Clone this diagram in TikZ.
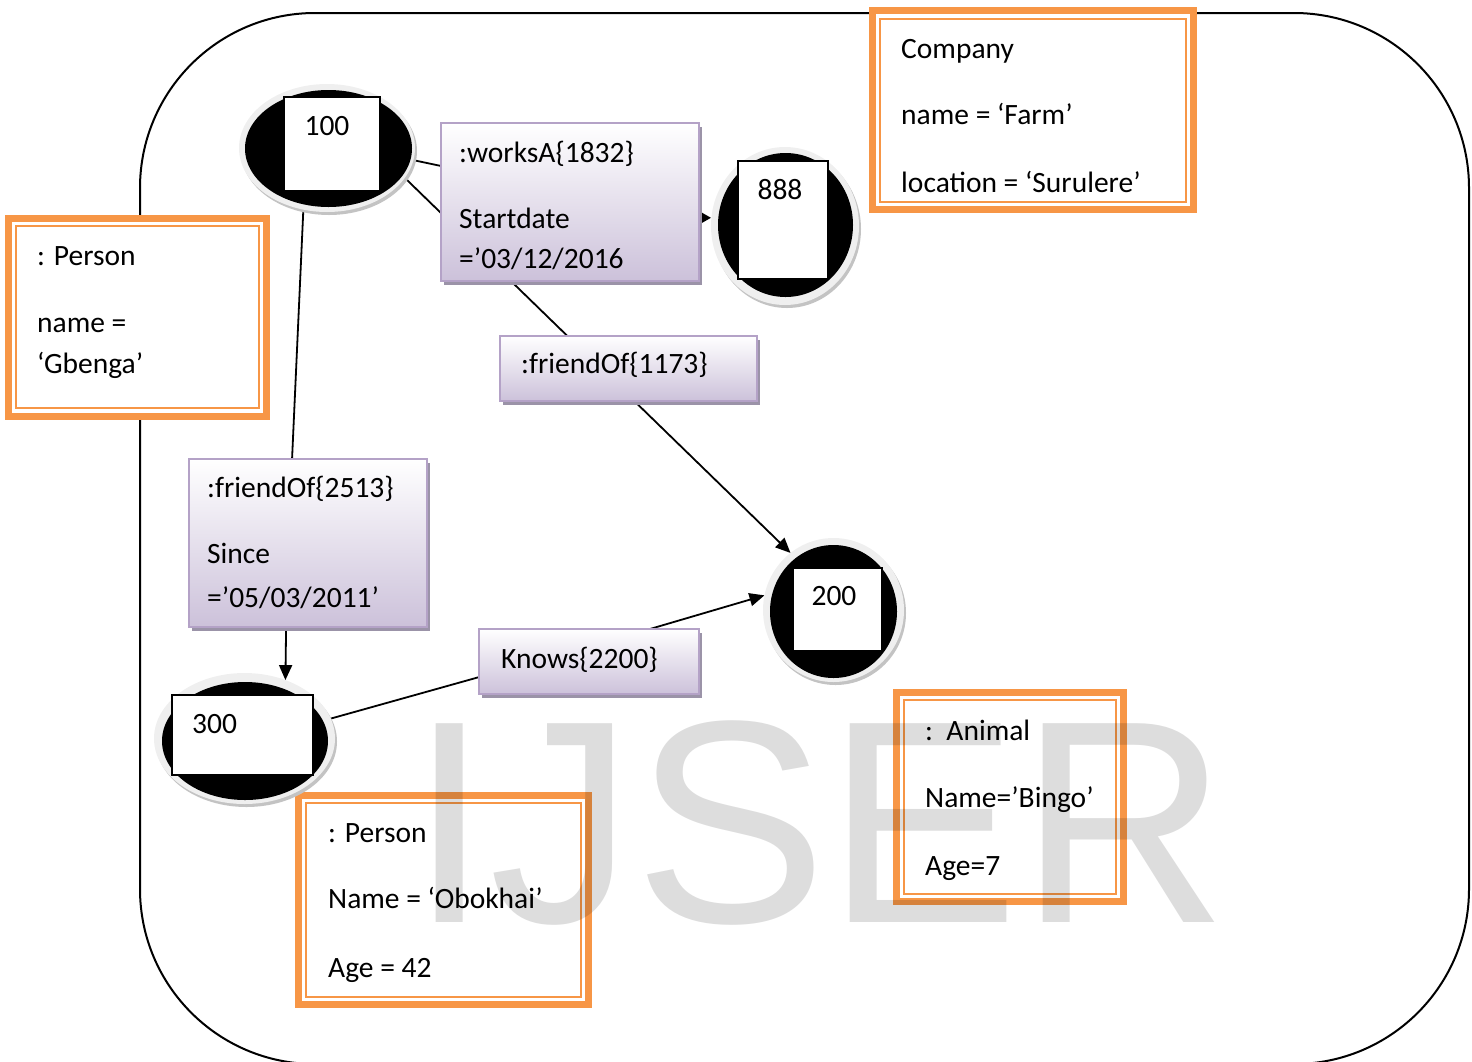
\documentclass[tikz,border=0pt]{standalone}
\usepackage{fontspec}
\setmainfont{Carlito}
\newfontfamily\wmfont{Liberation Sans}
\usetikzlibrary{shapes.geometric,arrows.meta,calc,shadows}
\pgfdeclarelayer{bg}
\pgfsetlayers{bg,main}
\definecolor{orangeC}{RGB}{247,150,70}
\definecolor{relborder}{RGB}{180,162,199}
\definecolor{relbottom}{RGB}{204,193,218}
\definecolor{relshadow}{RGB}{155,147,168}
\definecolor{ringcol}{RGB}{239,239,239}
\definecolor{ringshadow}{RGB}{195,195,195}
\definecolor{wmgray}{RGB}{221,221,221}
\tikzset{
  ring/.style={ellipse, fill=ringcol, inner sep=0pt, outer sep=0pt,
    general shadow={fill=ringshadow, shadow xshift=2pt, shadow yshift=-3pt}},
  blackell/.style={ellipse, fill=black, inner sep=0pt},
  numbox/.style={rectangle, fill=white, draw=black, line width=1.5pt, inner sep=0pt},
  numtxt/.style={font=\fontsize{29.5}{33}\selectfont, inner sep=0pt, anchor=base},
  relbox/.style={rectangle, draw=relborder, line width=2pt, top color=white,
    bottom color=relbottom, inner sep=0pt, outer sep=0pt,
    general shadow={fill=relshadow, shadow xshift=3pt, shadow yshift=-4pt}},
  objbox/.style={rectangle, draw=orangeC, line width=7pt, fill=white, inner sep=0pt, outer sep=0pt},
  innerline/.style={draw=orangeC, line width=2pt},
  txt/.style={font=\fontsize{29.5}{33}\selectfont, inner sep=0pt, anchor=north west, align=left},
  conn/.style={draw=black, line width=1.8pt},
  arr/.style={-{Triangle[length=15pt,width=13pt]}},
  smallarr/.style={-{Triangle[length=11pt,width=12pt]}}
}
\begin{document}
\begin{tikzpicture}[x=1pt,y=-1pt]
\useasboundingbox (0,0) rectangle (1472,1061);

% object boxes (orange)
\node[objbox, minimum width=321pt, minimum height=199pt] (company) at (1033,110) {};
\draw[innerline] ($(company.north west)+(7.5,8)$) rectangle ($(company.south east)+(-7.5,-7.5)$);
\node[objbox, minimum width=258pt, minimum height=198pt] (gbenga) at (137.5,317.5) {};
\draw[innerline] ($(gbenga.north west)+(7.5,7.5)$) rectangle ($(gbenga.south east)+(-7.5,-8.5)$);
\node[objbox, minimum width=290pt, minimum height=209pt] (obokhai) at (443.5,900) {};
\draw[innerline] ($(obokhai.north west)+(7.5,7.5)$) rectangle ($(obokhai.south east)+(-7.5,-7.5)$);
\node[objbox, minimum width=227pt, minimum height=209pt] (animal) at (1010,797) {};
\draw[innerline] ($(animal.north west)+(7.5,7.5)$) rectangle ($(animal.south east)+(-7.5,-7.5)$);

\begin{scope}
\clip (869,0) rectangle (1197,192);
\node[txt] (tcompany) at (901,34.9) {\strut Company\\[33pt]\strut name = ‘Farm’\\[35pt]\strut location = ‘Surulere’};
\end{scope}
\node[txt] (tgbenga) at (37,241.9) {\strut : Person\\[34pt]\strut name =\\[8pt]\strut ‘Gbenga’};
\node[txt] (tobokhai) at (328,818.9) {\strut : Person\\[33pt]\strut Name = ‘Obokhai’\\[36pt]\strut Age = 42};
\node[txt] (tanimal) at (925,716.9) {\strut :\ \ Animal\\[34pt]\strut Name=’Bingo’\\[35pt]\strut Age=7};

% relationship boxes
\node[relbox, minimum width=258pt, minimum height=158pt] (worksA) at (570,202) {};
\node[txt] (tworksA) at (459,138.9) {\strut :worksA\{1832\}\\[33pt]\strut Startdate\\[7pt]\strut =’03/12/2016};
\node[relbox, minimum width=257pt, minimum height=65pt] (fo1173) at (628.5,368.5) {};
\node[txt] (tfo1173) at (521,349.9) {\strut :friendOf\{1173\}};
\node[relbox, minimum width=238pt, minimum height=168pt] (fo2513) at (308,543) {};
\node[txt] (tfo2513) at (207,473.9) {\strut :friendOf\{2513\}\\[33pt]\strut Since\\[11pt]\strut =’05/03/2011’};
\node[relbox, minimum width=220pt, minimum height=65pt] (knows) at (589,661.5) {};
\node[txt] (tknows) at (501,644.9) {\strut Knows\{2200\}};

% entity nodes
\node[ring, minimum width=176pt, minimum height=128pt] (n100) at (327,148) {};
\node[blackell, minimum width=167pt, minimum height=117pt] (k100) at (328.5,148.5) {};
\node[numbox, minimum width=96pt, minimum height=94pt] (w100) at (332,144) {};
\node[numtxt] (l100) at (327,135) {100};

\node[ring, minimum width=148pt, minimum height=158pt] (n888) at (785,226) {};
\node[blackell, minimum width=135pt, minimum height=144pt] (k888) at (785.5,225) {};
\node[numbox, minimum width=90pt, minimum height=118pt] (w888) at (783,220) {};
\node[numtxt] (l888) at (780,199) {888};

\node[ring, minimum width=141pt, minimum height=144pt] (n200) at (833.5,610) {};
\node[blackell, minimum width=127pt, minimum height=133pt] (k200) at (833.5,611.5) {};
\node[numbox, minimum width=89pt, minimum height=83pt] (w200) at (837.5,609.5) {};
\node[numtxt] (l200) at (834,605) {200};

\node[ring, minimum width=181pt, minimum height=131pt] (n300) at (244.5,738.5) {};
\node[blackell, minimum width=166pt, minimum height=118pt] (k300) at (245,741) {};
\node[numbox, minimum width=141pt, minimum height=80pt] (w300) at (242.5,735) {};
\node[numtxt, anchor=base west] (l300) at (192,733) {300};

% background: frame and connectors
\begin{pgfonlayer}{bg}
\draw[line width=2pt, rounded corners=175pt] (140,13) rectangle (1469,1064);
\coordinate (wAin) at ($(worksA.north west)!0.272!(worksA.south west)$);
\coordinate (wAout) at ($(worksA.north east)!0.6!(worksA.south east)$);
\draw[conn] (n100.-8) -- (wAin);
\draw[conn, smallarr] (wAout) -- (wAout -| n888.west);
\draw[conn, arr] (n100.-21.8) -- (n200.127.2);
\draw[conn] (n100.-111.3) -- ($(fo2513.north west)!0.433!(fo2513.north east)$);
\draw[conn, arr] ($(fo2513.south west)!0.408!(fo2513.south east)$) -- (n300.55);
\draw[conn] (n300.13) -- ($(knows.north west)!0.74!(knows.south west)$);
\draw[conn, arr] ($(knows.north west)!0.777!(knows.north east)$) -- (n200.168.5);
\end{pgfonlayer}

% watermark
\begin{scope}[blend mode=multiply]
\node[anchor=base west, inner sep=0pt, text=wmgray, font=\fontsize{289}{289}\selectfont\wmfont] (wm) at (409,922) {IJSER};
\end{scope}
\end{tikzpicture}
\end{document}
